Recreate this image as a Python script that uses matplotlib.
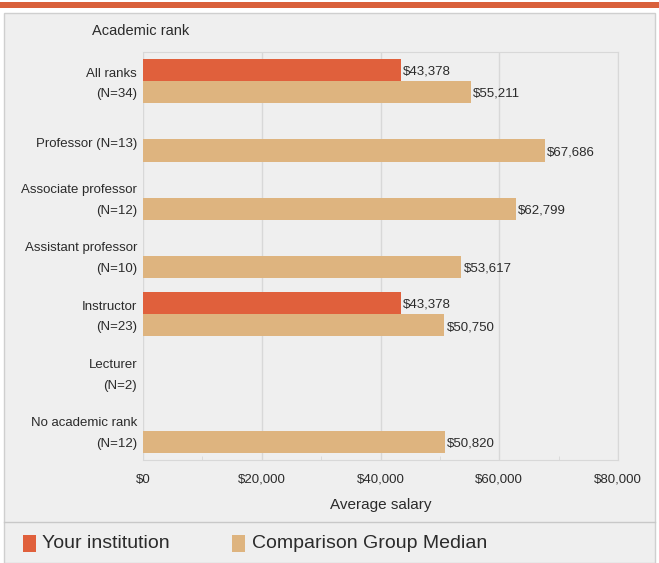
import numpy as np
import matplotlib.pyplot as plt
import matplotlib.transforms as mtransforms
from matplotlib.patches import Rectangle
from matplotlib.lines import Line2D

categories = ['All ranks\n(N=34)', 'Professor (N=13)', 'Associate professor\n(N=12)',
              'Assistant professor\n(N=10)', 'Instructor\n(N=23)', 'Lecturer\n(N=2)',
              'No academic rank\n(N=12)']
your_inst = [43378, np.nan, np.nan, np.nan, 43378, np.nan, np.nan]
comparison = [55211, 67686, 62799, 53617, 50750, np.nan, 50820]
xticks = [0, 20000, 40000, 60000, 80000]

red = '#e0603c'
tan = '#deb47f'
txt = '#2b2b2b'
plt.rcParams['font.family'] = ['Liberation Sans', 'DejaVu Sans']

W, H = 659, 563
fig = plt.figure(figsize=(W / 100, H / 100), dpi=100)
fig.patch.set_facecolor('white')

def fx(px):
    return px / W

def fy(py):
    return 1 - py / H

# background panel and top band
fig.patches.append(Rectangle((0, fy(7.5)), 1, 5.5 / H, transform=fig.transFigure,
                             facecolor='#d9603b', edgecolor='none', zorder=-10))
fig.patches.append(Rectangle((fx(4), 0), fx(651), fy(13), transform=fig.transFigure,
                             facecolor='#efefef', edgecolor='#cfcfcf', lw=1, zorder=-10))
fig.lines.append(Line2D([fx(4), fx(655)], [fy(522), fy(522)], transform=fig.transFigure,
                        color='#c8c8c8', lw=1, zorder=-5))

ax = fig.add_axes([fx(143), fy(460), fx(618 - 143), (460 - 52) / H])
ax.set_facecolor('#efefef')

y = np.arange(len(categories))
h = 0.38
ax.barh(y - h / 2, your_inst, height=h, color=red)
ax.barh(y + h / 2, comparison, height=h, color=tan)

for i in range(len(categories)):
    if not np.isnan(your_inst[i]):
        ax.text(your_inst[i] + 400, y[i] - h / 2 + 0.03, f'${your_inst[i]:,.0f}',
                va='center', ha='left', fontsize=9.5, color=txt)
    if not np.isnan(comparison[i]):
        ax.text(comparison[i] + 400, y[i] + h / 2 + 0.03, f'${comparison[i]:,.0f}',
                va='center', ha='left', fontsize=9.5, color=txt)

ax.set_xlim(0, 80000)
ax.set_ylim(6.5, -0.5)
ax.set_xticks(xticks)
ax.set_xticklabels([f'${v:,}' for v in xticks], fontsize=9.5, color=txt)
ax.set_xticks([10000, 30000, 50000, 70000], minor=True)
ax.set_yticks(y)
ax.set_yticklabels([])

# category labels, nudged like the original layout
base = mtransforms.blended_transform_factory(ax.transAxes, ax.transData)
for i, lab in enumerate(categories):
    dy = 3 if '\n' in lab else -3
    tr = base + mtransforms.ScaledTranslation(-6 / 100, dy / 100, fig.dpi_scale_trans)
    ax.text(0, y[i], lab, transform=tr, ha='right', va='center_baseline', fontsize=9.5,
            color=txt, linespacing=1.95, multialignment='right')

ax.tick_params(axis='y', length=0)
ax.tick_params(axis='x', which='major', length=0, pad=10)
ax.tick_params(axis='x', which='minor', length=3, direction='in', color='#d8d8d8')
ax.grid(axis='x', color='#d8d8d8', lw=1)
ax.set_axisbelow(True)
for s in ax.spines.values():
    s.set_color('#d8d8d8')
ax.spines['left'].set_visible(False)

ax.set_xlabel('Average salary', fontsize=11, color=txt, labelpad=9)
fig.text(fx(92), fy(31), 'Academic rank', fontsize=10.5, color=txt, va='center', ha='left')

# legend
fig.patches.append(Rectangle((fx(23), fy(552)), fx(13), 17 / H, transform=fig.transFigure,
                             facecolor=red, edgecolor='none'))
fig.text(fx(42), fy(544), 'Your institution', fontsize=14, color=txt, va='center', ha='left')
fig.patches.append(Rectangle((fx(232), fy(552)), fx(13), 17 / H, transform=fig.transFigure,
                             facecolor=tan, edgecolor='none'))
fig.text(fx(252), fy(544), 'Comparison Group Median', fontsize=14, color=txt,
         va='center', ha='left')

fig.savefig('out.png', dpi=100)
